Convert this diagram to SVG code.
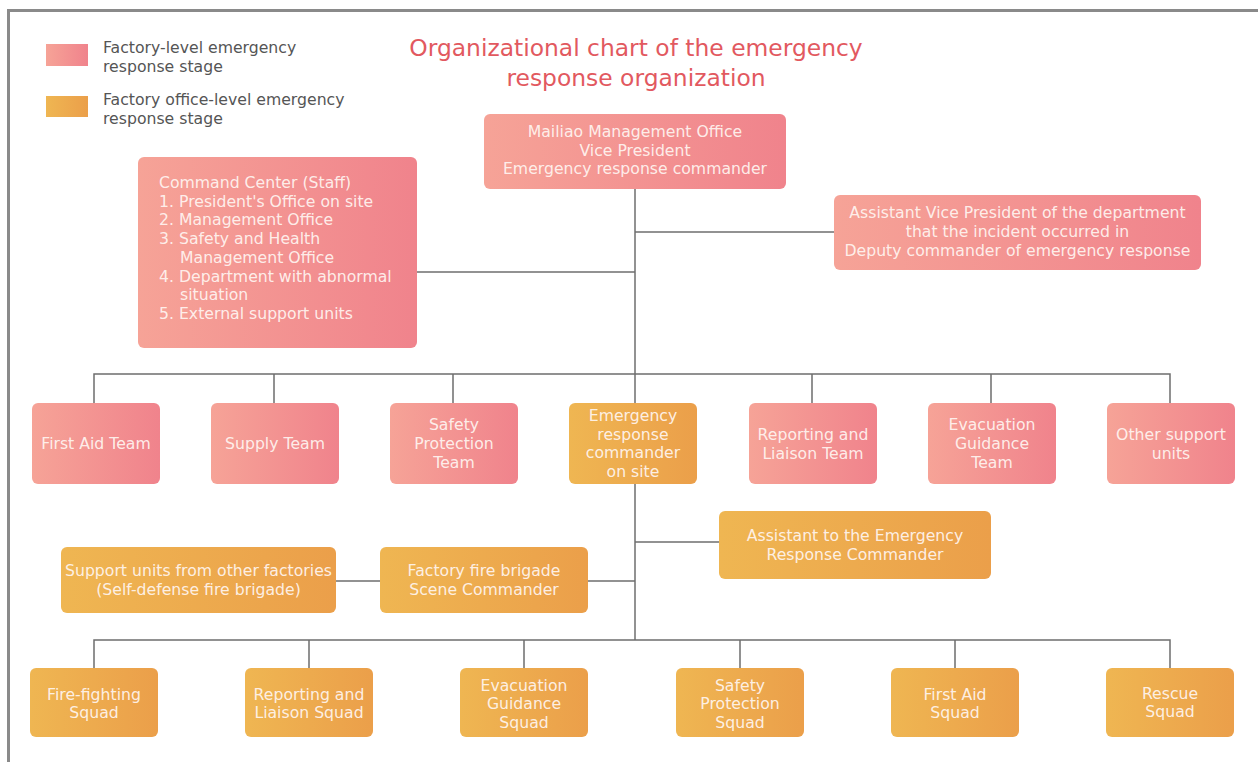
<svg xmlns="http://www.w3.org/2000/svg" width="1258" height="762" viewBox="0 0 1258 762">
  <defs>
    <linearGradient id="gPink" x1="0" y1="0" x2="1" y2="0">
      <stop offset="0" stop-color="#f6a397"/>
      <stop offset="1" stop-color="#f0838c"/>
    </linearGradient>
    <linearGradient id="gOrange" x1="0" y1="0" x2="1" y2="0">
      <stop offset="0" stop-color="#efb652"/>
      <stop offset="1" stop-color="#eb9f4a"/>
    </linearGradient>
    <style>
      .pink { fill: url(#gPink); }
      .orange { fill: url(#gOrange); }
      .lbl { font-family: "DejaVu Sans", "Liberation Sans", sans-serif; font-size: 15.7px; fill: #fff6f2; fill-opacity: 0.93; text-anchor: middle; }
      .lbl-left { text-anchor: start; }
      .legend { font-family: "DejaVu Sans", "Liberation Sans", sans-serif; font-size: 15.7px; fill: #555555; }
      .title { font-family: "DejaVu Sans", "Liberation Sans", sans-serif; font-size: 23.4px; fill: #e2595f; text-anchor: middle; }
      .wire { fill: none; stroke: #6e6e6e; stroke-width: 1.5; }
      .frame { fill: none; stroke: #8a8a8a; stroke-width: 3; }
    </style>
  </defs>

  <rect width="1258" height="762" fill="#ffffff"/>
  <path class="frame" d="M8.5 762 V10.5 H1258"/>

  <!-- legend -->
  <g id="legend">
    <rect class="pink" x="46" y="44" width="42" height="22"/>
    <text class="legend" x="103" y="53.3">Factory-level emergency</text>
    <text class="legend" x="103" y="71.5">response stage</text>
    <rect class="orange" x="46" y="96" width="42" height="21"/>
    <text class="legend" x="103" y="105">Factory office-level emergency</text>
    <text class="legend" x="103" y="123.5">response stage</text>
  </g>

  <!-- title -->
  <g id="title">
    <text class="title" x="636" y="56">Organizational chart of the emergency</text>
    <text class="title" x="636" y="85.5">response organization</text>
  </g>

  <!-- connectors -->
  <g id="connectors">
    <!-- main trunk -->
    <path class="wire" d="M635 188 V640"/>
    <path class="wire" d="M417 272 H635"/>
    <path class="wire" d="M635 232 H834"/>
    <!-- first-level bus -->
    <path class="wire" d="M94 403 V374 H1170 V403"/>
    <path class="wire" d="M274 374 V403 M453 374 V403 M812 374 V403 M991 374 V403"/>
    <!-- on-site commander branches -->
    <path class="wire" d="M635 542 H719"/>
    <path class="wire" d="M588 581 H635"/>
    <path class="wire" d="M336 581 H380"/>
    <!-- squad bus -->
    <path class="wire" d="M94 668 V640 H1170 V668"/>
    <path class="wire" d="M309 640 V668 M524 640 V668 M740 640 V668 M955 640 V668"/>
  </g>

  <!-- top commander -->
  <g id="node-commander">
    <rect class="pink" x="484" y="114" width="302" height="75" rx="6"/>
    <text class="lbl" x="635" y="136.8">Mailiao Management Office</text>
    <text class="lbl" x="635" y="155.5">Vice President</text>
    <text class="lbl" x="635" y="174.2">Emergency response commander</text>
  </g>

  <!-- command center -->
  <g id="node-command-center">
    <rect class="pink" x="138" y="157" width="279" height="191" rx="6"/>
    <text class="lbl lbl-left" x="159" y="187.7">Command Center (Staff)</text>
    <text class="lbl lbl-left" x="159" y="206.5">1. President's Office on site</text>
    <text class="lbl lbl-left" x="159" y="225.2">2. Management Office</text>
    <text class="lbl lbl-left" x="159" y="244">3. Safety and Health</text>
    <text class="lbl lbl-left" x="180" y="262.8">Management Office</text>
    <text class="lbl lbl-left" x="159" y="281.5">4. Department with abnormal</text>
    <text class="lbl lbl-left" x="180" y="300.2">situation</text>
    <text class="lbl lbl-left" x="159" y="319">5. External support units</text>
  </g>

  <!-- deputy commander -->
  <g id="node-deputy">
    <rect class="pink" x="834" y="195" width="367" height="75" rx="6"/>
    <text class="lbl" x="1017.5" y="218.3">Assistant Vice President of the department</text>
    <text class="lbl" x="1017.5" y="237">that the incident occurred in</text>
    <text class="lbl" x="1017.5" y="255.7">Deputy commander of emergency response</text>
  </g>

  <!-- first-level teams -->
  <g id="node-first-aid-team">
    <rect class="pink" x="32" y="403" width="128" height="81" rx="6"/>
    <text class="lbl" x="96" y="449">First Aid Team</text>
  </g>
  <g id="node-supply-team">
    <rect class="pink" x="211" y="403" width="128" height="81" rx="6"/>
    <text class="lbl" x="275" y="449">Supply Team</text>
  </g>
  <g id="node-safety-team">
    <rect class="pink" x="390" y="403" width="128" height="81" rx="6"/>
    <text class="lbl" x="454" y="430.4">Safety</text>
    <text class="lbl" x="454" y="449">Protection</text>
    <text class="lbl" x="454" y="467.7">Team</text>
  </g>
  <g id="node-onsite-commander">
    <rect class="orange" x="569" y="403" width="128" height="81" rx="6"/>
    <text class="lbl" x="633" y="421">Emergency</text>
    <text class="lbl" x="633" y="439.7">response</text>
    <text class="lbl" x="633" y="458.4">commander</text>
    <text class="lbl" x="633" y="477">on site</text>
  </g>
  <g id="node-reporting-team">
    <rect class="pink" x="749" y="403" width="128" height="81" rx="6"/>
    <text class="lbl" x="813" y="439.8">Reporting and</text>
    <text class="lbl" x="813" y="458.5">Liaison Team</text>
  </g>
  <g id="node-evacuation-team">
    <rect class="pink" x="928" y="403" width="128" height="81" rx="6"/>
    <text class="lbl" x="992" y="430.4">Evacuation</text>
    <text class="lbl" x="992" y="449">Guidance</text>
    <text class="lbl" x="992" y="467.7">Team</text>
  </g>
  <g id="node-other-support">
    <rect class="pink" x="1107" y="403" width="128" height="81" rx="6"/>
    <text class="lbl" x="1171" y="439.8">Other support</text>
    <text class="lbl" x="1171" y="458.5">units</text>
  </g>

  <!-- on-site branches -->
  <g id="node-assistant-commander">
    <rect class="orange" x="719" y="511" width="272" height="68" rx="6"/>
    <text class="lbl" x="855" y="541">Assistant to the Emergency</text>
    <text class="lbl" x="855" y="559.7">Response Commander</text>
  </g>
  <g id="node-fire-brigade">
    <rect class="orange" x="380" y="547" width="208" height="66" rx="6"/>
    <text class="lbl" x="484" y="576.3">Factory fire brigade</text>
    <text class="lbl" x="484" y="595">Scene Commander</text>
  </g>
  <g id="node-other-factories">
    <rect class="orange" x="61" y="547" width="275" height="66" rx="6"/>
    <text class="lbl" x="198.5" y="576.3">Support units from other factories</text>
    <text class="lbl" x="198.5" y="595">(Self-defense fire brigade)</text>
  </g>

  <!-- squads -->
  <g id="node-fire-fighting">
    <rect class="orange" x="30" y="668" width="128" height="69" rx="6"/>
    <text class="lbl" x="94" y="699.5">Fire-fighting</text>
    <text class="lbl" x="94" y="718.2">Squad</text>
  </g>
  <g id="node-reporting-squad">
    <rect class="orange" x="245" y="668" width="128" height="69" rx="6"/>
    <text class="lbl" x="309" y="699.5">Reporting and</text>
    <text class="lbl" x="309" y="718.2">Liaison Squad</text>
  </g>
  <g id="node-evacuation-squad">
    <rect class="orange" x="460" y="668" width="128" height="69" rx="6"/>
    <text class="lbl" x="524" y="690.5">Evacuation</text>
    <text class="lbl" x="524" y="709">Guidance</text>
    <text class="lbl" x="524" y="727.7">Squad</text>
  </g>
  <g id="node-safety-squad">
    <rect class="orange" x="676" y="668" width="128" height="69" rx="6"/>
    <text class="lbl" x="740" y="690.5">Safety</text>
    <text class="lbl" x="740" y="709">Protection</text>
    <text class="lbl" x="740" y="727.7">Squad</text>
  </g>
  <g id="node-first-aid-squad">
    <rect class="orange" x="891" y="668" width="128" height="69" rx="6"/>
    <text class="lbl" x="955" y="699.5">First Aid</text>
    <text class="lbl" x="955" y="718.2">Squad</text>
  </g>
  <g id="node-rescue-squad">
    <rect class="orange" x="1106" y="668" width="128" height="69" rx="6"/>
    <text class="lbl" x="1170" y="698.5">Rescue</text>
    <text class="lbl" x="1170" y="717.2">Squad</text>
  </g>
</svg>
